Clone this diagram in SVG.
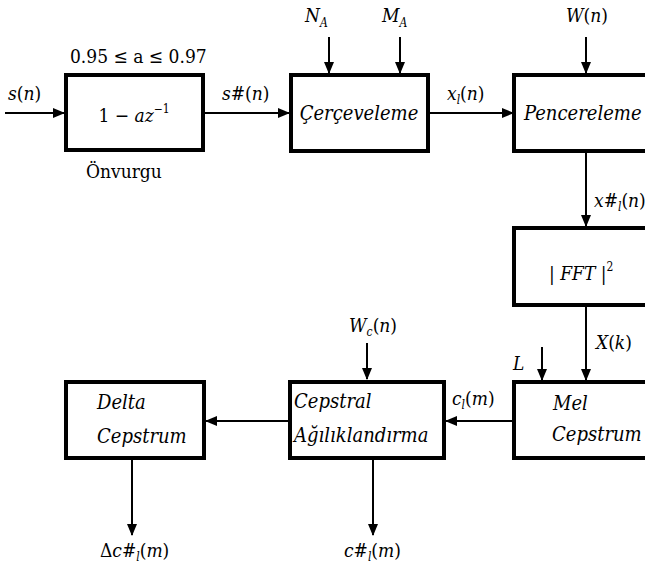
<svg xmlns="http://www.w3.org/2000/svg" width="645" height="570" viewBox="0 0 645 570">
<style>
.box{fill:#fff;stroke:#000;stroke-width:4}
.ln{fill:none;stroke:#000;stroke-width:2}
.t{font-family:'DejaVu Serif',serif;font-stretch:condensed;font-size:19px;fill:#000}
.it{font-style:italic}
.bt{font-style:italic;font-size:20px}
.sub{font-size:12px;font-style:italic}
</style>
<defs>
<marker id="ah" markerUnits="userSpaceOnUse" markerWidth="12" markerHeight="12" refX="11" refY="6" orient="auto">
<path d="M0,1 L12,6 L0,11 Z" fill="#000"/>
</marker>
</defs>
<rect width="645" height="570" fill="#fff"/>
<g id="connectors">
<line class="ln" x1="5" y1="113" x2="64" y2="113" marker-end="url(#ah)"/>
<line class="ln" x1="205" y1="113" x2="289" y2="113" marker-end="url(#ah)"/>
<line class="ln" x1="428" y1="113" x2="513" y2="113" marker-end="url(#ah)"/>
<line class="ln" x1="329" y1="37" x2="329" y2="73" marker-end="url(#ah)"/>
<line class="ln" x1="400" y1="37" x2="400" y2="73" marker-end="url(#ah)"/>
<line class="ln" x1="586" y1="37" x2="586" y2="73" marker-end="url(#ah)"/>
<line class="ln" x1="586" y1="152" x2="586" y2="226" marker-end="url(#ah)"/>
<line class="ln" x1="586" y1="306" x2="586" y2="380" marker-end="url(#ah)"/>
<line class="ln" x1="542" y1="347" x2="542" y2="380" marker-end="url(#ah)"/>
<line class="ln" x1="514" y1="421" x2="446" y2="421" marker-end="url(#ah)"/>
<line class="ln" x1="289" y1="421" x2="206" y2="421" marker-end="url(#ah)"/>
<line class="ln" x1="367" y1="343" x2="367" y2="379" marker-end="url(#ah)"/>
<line class="ln" x1="373" y1="459" x2="373" y2="535" marker-end="url(#ah)"/>
<line class="ln" x1="132" y1="459" x2="132" y2="535" marker-end="url(#ah)"/>
</g>
<g id="onvurgu">
<rect class="box" x="66" y="75" width="137" height="75"/>
<text class="t" x="134" y="122" text-anchor="middle">1 − <tspan class="it">az</tspan><tspan font-size="12" dy="-9">−1</tspan></text>
<text class="t" x="70" y="63">0.95 ≤ a ≤ 0.97</text>
<text class="t" x="86" y="178">Önvurgu</text>
</g>
<g id="cerceveleme">
<rect class="box" x="291" y="75" width="137" height="76"/>
<text class="t bt" x="359" y="120" text-anchor="middle">Çerçeveleme</text>
</g>
<g id="pencereleme">
<rect class="box" x="514" y="75" width="140" height="76"/>
<text class="t bt" x="524" y="120">Pencereleme</text>
</g>
<g id="fft">
<rect class="box" x="514" y="228" width="140" height="77"/>
<text class="t" x="549" y="280">| <tspan class="it">FFT</tspan> |<tspan font-size="12" dy="-9">2</tspan></text>
</g>
<g id="mel">
<rect class="box" x="514" y="382" width="140" height="76"/>
<text class="t bt" x="553" y="410">Mel</text>
<text class="t bt" x="552" y="441">Cepstrum</text>
</g>
<g id="cepstral">
<rect class="box" x="290" y="382" width="154" height="76"/>
<text class="t bt" x="294" y="408">Cepstral</text>
<text class="t bt" x="294" y="442">Ağılıklandırma</text>
</g>
<g id="delta">
<rect class="box" x="66" y="382" width="138" height="76"/>
<text class="t bt" x="97" y="409">Delta</text>
<text class="t bt" x="97" y="443">Cepstrum</text>
</g>
<g id="labels">
<text class="t" x="8" y="100"><tspan class="it">s</tspan>(<tspan class="it">n</tspan>)</text>
<text class="t" x="222" y="100"><tspan class="it">s</tspan>#(<tspan class="it">n</tspan>)</text>
<text class="t" x="305" y="22"><tspan class="it">N</tspan><tspan class="sub" dy="5">A</tspan></text>
<text class="t" x="382" y="22"><tspan class="it">M</tspan><tspan class="sub" dy="5">A</tspan></text>
<text class="t" x="566" y="22"><tspan class="it">W</tspan>(<tspan class="it">n</tspan>)</text>
<text class="t" x="447" y="100"><tspan class="it">x</tspan><tspan class="sub" dy="4">l</tspan><tspan dy="-4">(</tspan><tspan class="it">n</tspan>)</text>
<text class="t" x="594" y="207"><tspan class="it">x</tspan>#<tspan class="sub" dy="4">l</tspan><tspan dy="-4">(</tspan><tspan class="it">n</tspan>)</text>
<text class="t" x="596" y="349"><tspan class="it">X</tspan>(<tspan class="it">k</tspan>)</text>
<text class="t it" x="513" y="370">L</text>
<text class="t" x="452" y="405"><tspan class="it">c</tspan><tspan class="sub" dy="4">l</tspan><tspan dy="-4">(</tspan><tspan class="it">m</tspan>)</text>
<text class="t" x="349" y="332"><tspan class="it">W</tspan><tspan class="sub" dy="4">c</tspan><tspan dy="-4">(</tspan><tspan class="it">n</tspan>)</text>
<text class="t" x="344" y="557"><tspan class="it">c</tspan>#<tspan class="sub" dy="4">l</tspan><tspan dy="-4">(</tspan><tspan class="it">m</tspan>)</text>
<text class="t" x="100" y="557">Δ<tspan class="it">c</tspan>#<tspan class="sub" dy="4">l</tspan><tspan dy="-4">(</tspan><tspan class="it">m</tspan>)</text>
</g>
</svg>
